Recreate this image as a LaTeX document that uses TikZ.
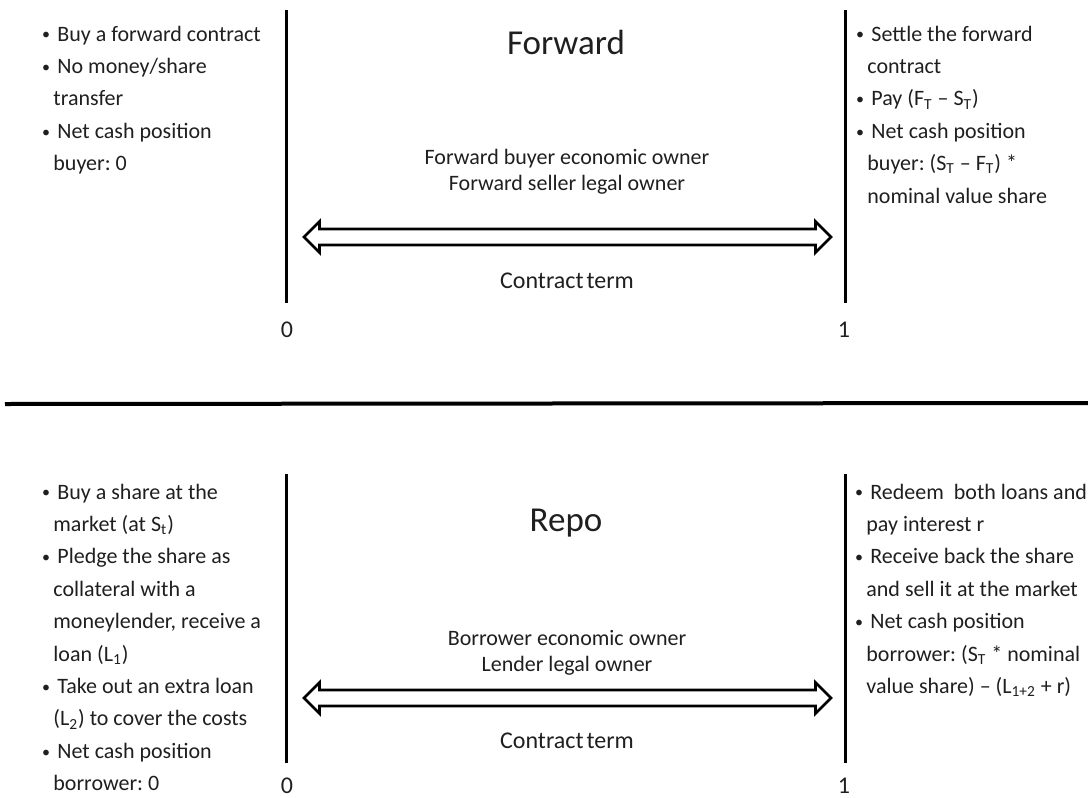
\documentclass[tikz,border=0pt]{standalone}
\usepackage{fontspec}
\setmainfont{Carlito}
\frenchspacing
\newcommand\bul{\hspace*{2pt}\llap{\raisebox{0.6pt}{\fontsize{8pt}{8pt}\selectfont •}\hspace{3.6pt}}}
\newcommand\sub[1]{\textsubscript{#1}}
\begin{document}
\begin{tikzpicture}[x=0.5pt,y=-0.5pt,
  txt/.style={font=\fontsize{11pt}{13pt}\selectfont\frenchspacing, inner sep=0pt, anchor=base west, text=black!88},
  mid/.style={font=\fontsize{11pt}{13pt}\selectfont\frenchspacing, inner sep=0pt, anchor=base, text=black!88},
  term/.style={font=\fontsize{12pt}{14pt}\selectfont, inner sep=0pt, anchor=base, text=black!88},
  ttl/.style={font=\fontsize{17.5pt}{21pt}\selectfont, inner sep=0pt, anchor=base, text=black!88},
  vline/.style={line width=1.5pt},
  sepline/.style={line width=2pt},
  arr/.style={line width=1.4pt, line join=miter},
  dblarrow/.pic={\draw[arr] (-263.5,0) -- (-248,-15.5) -- (-248,-8) -- (248,-8) -- (248,-15.5) -- (263.5,0) -- (248,15.5) -- (248,8) -- (-248,8) -- (-248,15.5) -- cycle;}
]
\useasboundingbox (0,0) rectangle (1088,798);

% ---------- Forward (top) ----------
\coordinate (ftl) at (286,10);  \coordinate (fbl) at (286,303);
\coordinate (ftr) at (845,10);  \coordinate (fbr) at (845,303);
\draw[vline] (ftl) -- (fbl);
\draw[vline] (ftr) -- (fbr);

\node[ttl] (fwdtitle) at (566,54) {Forward};

\foreach \t [count=\i] in {{\bul Buy a forward contract},{\bul No money/share},{transfer},{\bul Net cash position},{buyer: 0}}
  \node[txt] (fl\i) at (53,{41+(\i-1)*32.4}) {\t};

\foreach \t [count=\i] in {{\bul Settle the forward},{contract},{\bul Pay (F\sub{T} – S\sub{T})},{\bul Net cash position},{buyer: (S\sub{T} – F\sub{T}) *},{nominal value share}}
  \node[txt] (fr\i) at (867,{41+(\i-1)*32.4}) {\t};

\node[mid] (fc1) at (567,164) {Forward buyer economic owner};
\node[mid] (fc2) at (567,190) {Forward seller legal owner};

\pic (farrow) at (567.5,237) {dblarrow};
\node[term] (fterm) at (567,288) {Contract\hspace{1.5pt}term};
\node[term] (f0) at (287,337) {0};
\node[term] (f1) at (844,337) {1};

% ---------- separator ----------
\coordinate (sepL) at (5,404);
\coordinate (sepR) at (1088,403);
\draw[sepline] (sepL) -- (sepR);

% ---------- Repo (bottom) ----------
\coordinate (rtl) at (286,474);  \coordinate (rbl) at (286,763);
\coordinate (rtr) at (845,474);  \coordinate (rbr) at (845,763);
\draw[vline] (rtl) -- (rbl);
\draw[vline] (rtr) -- (rbr);

\node[ttl] (repotitle) at (566,531) {Repo};

\foreach \t [count=\i] in {{\bul Buy a share at the},{market (at S\sub{t})},{\bul Pledge the share as},{collateral with a},{moneylender, receive a},{loan (L\sub{1})},{\bul Take out an extra loan},{(L\sub{2}) to cover the costs},{\bul Net cash position},{borrower: 0}}
  \node[txt] (rl\i) at (53,{499+(\i-1)*32.4}) {\t};

\foreach \t [count=\i] in {{\bul Redeem\ \ both loans and},{pay interest r},{\bul Receive back the share},{and sell it at the market},{\bul Net cash position},{borrower: (S\sub{T} * nominal},{value share) – (L\sub{1+2} + r)}}
  \node[txt] (rr\i) at (866,{499+(\i-1)*32.4}) {\t};

\node[mid] (rc1) at (567,645) {Borrower economic owner};
\node[mid] (rc2) at (567,671) {Lender legal owner};

\pic (rarrow) at (567.5,698) {dblarrow};
\node[term] (rterm) at (567,748) {Contract\hspace{1.5pt}term};
\node[term] (r0) at (287,793) {0};
\node[term] (r1) at (844,793) {1};
\end{tikzpicture}
\end{document}
